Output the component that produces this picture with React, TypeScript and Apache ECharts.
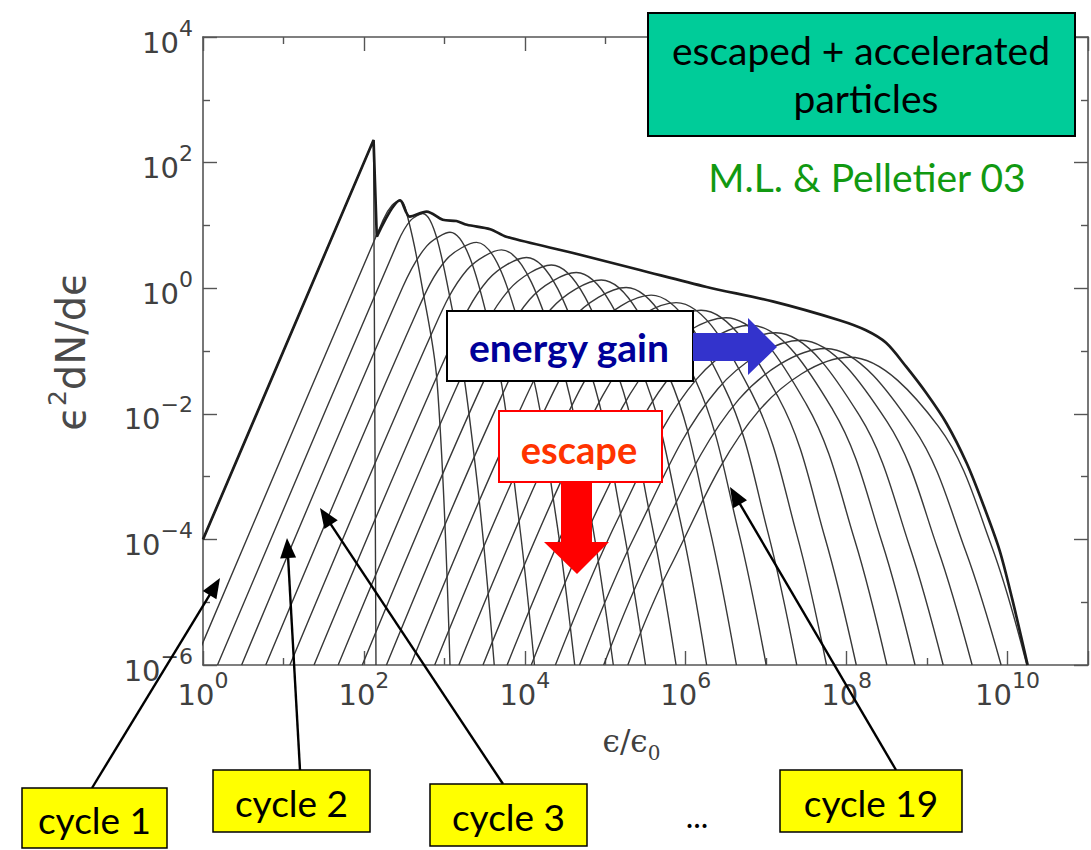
import React, { useEffect, useRef } from "react";
import * as echarts from "echarts";

// Decades shown on the axes (labels at even powers of ten)
const xLabelExponents = [0, 2, 4, 6, 8, 10];
const yLabelExponents = [-6, -4, -2, 0, 2, 4];

// All curves are [log10(ε/ε0), log10(ε² dN/dε)]
const injectionCycle = [[0, -4], [2.12, 2.36], [2.15, -6]];
const totalRise = [[0, -4], [2.12, 2.36], [2.16, 0.82]];
const totalTail = [
  [2.16, 0.82], [2.45, 1.4], [2.57, 1.14], [2.78, 1.22], [2.98, 1.09], [3.15, 1.07],
  [3.28, 1.01], [3.57, 0.94], [3.77, 0.82], [4.6, 0.56], [5.43, 0.29], [6.26, 0.02],
  [7.08, -0.21], [7.91, -0.51], [8.24, -0.67], [8.49, -0.87], [8.74, -1.25],
  [8.99, -1.67], [9.24, -2.15], [9.49, -2.78], [9.69, -3.42], [9.9, -4.17],
  [10.06, -4.96], [10.25, -6],
];

const cycle01 = [[-0.12, -6], [2.24, 1.09], [2.35, 1.32], [2.45, 1.4], [2.56, 1.05], [2.72, 0.05], [2.91, -1.5], [3.07, -6]];
const cycle02 = [[0.18, -6], [2.42, 0.73], [2.58, 1.08], [2.73, 1.19], [3.1, -0.35], [3.4, -3.0], [3.62, -6]];
const cycle03 = [[0.48, -6], [2.48, 0.01], [2.78, 0.67], [3.07, 0.89], [3.6, -0.83], [3.91, -3.52], [4.12, -6]];
const cycle04 = [[0.78, -6], [2.65, -0.4], [3.02, 0.45], [3.4, 0.73], [4.01, -0.95], [4.38, -3.58], [4.62, -6]];
const cycle05 = [[1.08, -6], [2.86, -0.67], [3.28, 0.29], [3.71, 0.61], [4.41, -1.04], [4.82, -3.62], [5.1, -6]];
const cycle06 = [[1.38, -6], [3.07, -0.94], [3.54, 0.13], [4.02, 0.49], [4.76, -1.13], [5.2, -3.66], [5.5, -6]];
const cycle07 = [[1.68, -6], [3.28, -1.21], [3.8, -0.03], [4.33, 0.37], [5.11, -1.22], [5.57, -3.71], [5.88, -6]];
const cycle08 = [[1.98, -6], [3.49, -1.48], [4.06, -0.18], [4.64, 0.25], [5.45, -1.31], [5.94, -3.75], [6.26, -6]];
const cycle09 = [[2.28, -6], [3.7, -1.75], [4.32, -0.34], [4.95, 0.13], [5.79, -1.4], [6.29, -3.79], [6.63, -6]];
const cycle10 = [[2.58, -6], [3.91, -2.02], [4.58, -0.5], [5.26, 0.01], [6.13, -1.49], [6.65, -3.84], [7.0, -6]];
const cycle11 = [[2.88, -6], [4.12, -2.29], [4.84, -0.66], [5.57, -0.11], [6.48, -1.58], [7.02, -3.88], [7.38, -6]];
const cycle12 = [[3.18, -6], [4.33, -2.56], [5.1, -0.81], [5.88, -0.23], [6.82, -1.67], [7.38, -3.92], [7.75, -6]];
const cycle13 = [[3.48, -6], [4.54, -2.83], [5.36, -0.97], [6.19, -0.35], [7.16, -1.76], [7.73, -3.97], [8.12, -6]];
const cycle14 = [[3.78, -6], [4.75, -3.1], [5.62, -1.13], [6.5, -0.47], [7.5, -1.85], [8.1, -4.01], [8.5, -6]];
const cycle15 = [[4.08, -6], [4.96, -3.37], [5.88, -1.29], [6.81, -0.59], [7.83, -1.94], [8.44, -4.05], [8.85, -6]];
const cycle16 = [[4.38, -6], [5.17, -3.64], [6.14, -1.44], [7.12, -0.71], [8.16, -2.03], [8.78, -4.1], [9.2, -6]];
const cycle17 = [[4.68, -6], [5.38, -3.91], [6.4, -1.6], [7.43, -0.83], [8.5, -2.12], [9.13, -4.14], [9.56, -6]];
const cycle18 = [[4.98, -6], [5.58, -4.2], [6.66, -1.77], [7.74, -0.96], [8.83, -2.22], [9.48, -4.19], [9.92, -6]];
const cycle19 = [[5.28, -6], [5.79, -4.48], [6.91, -1.95], [8.04, -1.1], [9.14, -2.2], [9.8, -4.1], [10.24, -6]];

const cycles = [
  cycle01, cycle02, cycle03, cycle04, cycle05, cycle06, cycle07, cycle08, cycle09, cycle10,
  cycle11, cycle12, cycle13, cycle14, cycle15, cycle16, cycle17, cycle18, cycle19,
];

const expText = (e: number) => (e < 0 ? "\u2212" + Math.abs(e) : String(e));

const labelGray = "#404040";
const tickRich = {
  b: { fontFamily: "DejaVu Sans", fontSize: 29, color: labelGray, lineHeight: 40, verticalAlign: "bottom" },
  s: { fontFamily: "DejaVu Sans", fontSize: 22, color: labelGray, lineHeight: 22, verticalAlign: "top" },
};

const axisColor = "#555";
const slideFont = "Lato";

function arrowHead(x1: number, y1: number, x2: number, y2: number, len: number, half: number) {
  const dx = x2 - x1;
  const dy = y2 - y1;
  const d = Math.hypot(dx, dy);
  const ux = dx / d;
  const uy = dy / d;
  const bx = x2 - ux * len;
  const by = y2 - uy * len;
  return [
    [x2, y2],
    [bx - uy * half, by + ux * half],
    [bx + uy * half, by - ux * half],
  ];
}

function pointer(x1: number, y1: number, x2: number, y2: number) {
  const head = arrowHead(x1, y1, x2, y2, 20, 8);
  const d = Math.hypot(x2 - x1, y2 - y1);
  const ex = x2 - ((x2 - x1) / d) * 16;
  const ey = y2 - ((y2 - y1) / d) * 16;
  return [
    { type: "line", z: 110, shape: { x1, y1, x2: ex, y2: ey }, style: { stroke: "#000", lineWidth: 2.4 } },
    { type: "polygon", z: 110, shape: { points: head }, style: { fill: "#000" } },
  ];
}

function labelBox(x: number, y: number, w: number, h: number, text: string) {
  return [
    { type: "rect", z: 120, shape: { x, y, width: w, height: h }, style: { fill: "#ffff00", stroke: "#000", lineWidth: 1.5 } },
    {
      type: "text", z: 121, x: x + w / 2, y: y + h / 2 + 1,
      style: { text, font: `37px ${slideFont}`, fill: "#000", textAlign: "center", textVerticalAlign: "middle" },
    },
  ];
}

export default function App() {
  const ref = useRef<HTMLDivElement>(null);

  useEffect(() => {
    const chart = echarts.init(ref.current!, null, { renderer: "svg" });

    const thinSeries = cycles.map((pts, i) => ({
      name: "cycle " + (i + 1),
      type: "line",
      data: pts,
      showSymbol: false,
      smooth: 0.35,
      silent: true,
      z: 2,
      lineStyle: { color: "#383838", width: 1.4 },
    }));

    const axisCommon = {
      type: "value",
      axisLine: { onZero: false, lineStyle: { color: axisColor, width: 1.6 } },
      axisTick: { inside: true, length: 14, lineStyle: { color: axisColor, width: 1.4 } },
      minorTick: { show: true, splitNumber: 2, length: 7, lineStyle: { color: axisColor, width: 1.4 } },
      splitLine: { show: false },
      minorSplitLine: { show: false },
    };

    chart.setOption({
      animation: false,
      backgroundColor: "#ffffff",
      grid: { left: 203, top: 37, width: 885, height: 628, show: false },
      xAxis: [
        {
          ...axisCommon,
          position: "bottom",
          min: 0,
          max: 11,
          interval: 2,
          axisLabel: {
            margin: 4,
            formatter: (v: number) => (xLabelExponents.includes(v) ? `{b|10}{s|${expText(v)}}` : ""),
            rich: tickRich,
          },
          name: "{a|\u03f5/\u03f5}{u|0}",
          nameLocation: "middle",
          nameGap: 60,
          nameTextStyle: {
            padding: [0, 28, 0, 0],
            rich: {
              a: { fontFamily: "DejaVu Serif", fontSize: 31, color: labelGray, lineHeight: 38, verticalAlign: "top" },
              u: { fontFamily: "DejaVu Serif", fontSize: 20, color: labelGray, lineHeight: 38, verticalAlign: "bottom" },
            },
          },
        },
        {
          ...axisCommon,
          position: "top",
          min: 0,
          max: 11,
          interval: 2,
          axisLabel: { show: false },
        },
      ],
      yAxis: [
        {
          ...axisCommon,
          position: "left",
          min: -6,
          max: 4,
          interval: 2,
          axisLabel: {
            margin: 10,
            formatter: (v: number) => (yLabelExponents.includes(v) ? `{b|10}{s|${expText(v)}}` : ""),
            rich: tickRich,
          },
          name: "{a|\u03f5}{s|2}{a|dN/d\u03f5}",
          nameLocation: "middle",
          nameGap: 112,
          nameTextStyle: {
            rich: {
              a: { fontFamily: "DejaVu Sans", fontSize: 40, color: "#4a4a4a", lineHeight: 46, verticalAlign: "bottom" },
              s: { fontFamily: "DejaVu Sans", fontSize: 25, color: "#4a4a4a", lineHeight: 25, verticalAlign: "top" },
            },
          },
        },
        {
          ...axisCommon,
          position: "right",
          min: -6,
          max: 4,
          interval: 2,
          axisLabel: { show: false },
        },
      ],
      series: [
        ...thinSeries,
        {
          name: "cycle 0",
          type: "line",
          data: injectionCycle,
          showSymbol: false,
          silent: true,
          z: 2,
          lineStyle: { color: "#383838", width: 1.4 },
        },
        {
          name: "total rise",
          type: "line",
          data: totalRise,
          showSymbol: false,
          silent: true,
          z: 3,
          lineStyle: { color: "#1c1c1c", width: 2.7 },
        },
        {
          name: "total",
          type: "line",
          data: totalTail,
          showSymbol: false,
          smooth: 0.3,
          silent: true,
          z: 3,
          lineStyle: { color: "#1c1c1c", width: 2.7 },
        },
      ],
      graphic: [
        // title box
        { type: "rect", z: 100, shape: { x: 648, y: 13, width: 427, height: 123 }, style: { fill: "#00cc99", stroke: "#000", lineWidth: 2 } },
        { type: "text", z: 101, x: 861, y: 50, style: { text: "escaped + accelerated", font: `39px ${slideFont}`, fill: "#000", textAlign: "center", textVerticalAlign: "middle" } },
        { type: "text", z: 101, x: 866, y: 98, style: { text: "particles", font: `39px ${slideFont}`, fill: "#000", textAlign: "center", textVerticalAlign: "middle" } },
        { type: "text", z: 101, x: 867, y: 177, style: { text: "M.L. & Pelletier 03", font: `39px ${slideFont}`, fill: "#119911", textAlign: "center", textVerticalAlign: "middle" } },
        // energy gain
        { type: "rect", z: 100, shape: { x: 447, y: 311, width: 246, height: 70 }, style: { fill: "#fff", stroke: "#000", lineWidth: 2 } },
        { type: "text", z: 101, x: 569, y: 347, style: { text: "energy gain", font: `bold 39px ${slideFont}`, fill: "#000099", textAlign: "center", textVerticalAlign: "middle" } },
        {
          type: "polygon", z: 100,
          shape: { points: [[693, 333], [748, 333], [748, 318], [777, 347], [748, 375], [748, 361], [693, 361]] },
          style: { fill: "#3333cc" },
        },
        // escape
        { type: "rect", z: 100, shape: { x: 499, y: 411, width: 163, height: 71 }, style: { fill: "#fff", stroke: "#ff0000", lineWidth: 2 } },
        { type: "text", z: 101, x: 579, y: 449, style: { text: "escape", font: `bold 38px ${slideFont}`, fill: "#ff3300", textAlign: "center", textVerticalAlign: "middle" } },
        {
          type: "polygon", z: 100,
          shape: { points: [[561, 483], [592, 483], [592, 542], [609, 542], [577, 574], [544, 542], [561, 542]] },
          style: { fill: "#ff0000" },
        },
        // pointers to individual cycles
        ...pointer(92, 788, 220, 578),
        ...pointer(300, 770, 287, 538),
        ...pointer(503, 784, 320, 508),
        ...pointer(896, 770, 730, 487),
        ...labelBox(22, 788, 145, 60, "cycle 1"),
        ...labelBox(213, 770, 157, 62, "cycle 2"),
        ...labelBox(430, 784, 157, 62, "cycle 3"),
        ...labelBox(780, 770, 182, 62, "cycle 19"),
        { type: "text", z: 121, x: 697, y: 815, style: { text: "...", font: `32px ${slideFont}`, fill: "#000", textAlign: "center", textVerticalAlign: "middle" } },
      ],
    });

    return () => chart.dispose();
  }, []);

  return (
    <div
      ref={ref}
      style={{ position: "absolute", left: 0, top: 0, width: 1091, height: 850, background: "#fff" }}
    />
  );
}
